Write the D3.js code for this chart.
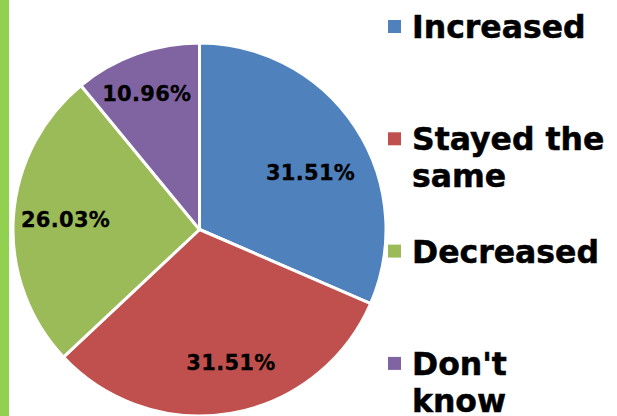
<!DOCTYPE html>
<html>
<head>
<meta charset="utf-8">
<script src="https://cdn.jsdelivr.net/npm/d3@7"></script>
<style>
  html, body { margin: 0; padding: 0; background: #fff; }
  svg { display: block; }
</style>
</head>
<body>
<svg id="chart" width="617" height="416"></svg>
<script>
// Survey answers and their shares (%)
const categories = ["Increased", "Stayed the same", "Decreased", "Don't know"];
const shares = [31.51, 31.51, 26.03, 10.96];
const legendLines = [["Increased"], ["Stayed the", "same"], ["Decreased"], ["Don't", "know"]];
const colors = ["#4F81BD", "#C0504D", "#9BBB59", "#8064A2"];

// Label placement per slice: [angle shift in degrees, radius fraction]
const labelPlacement = [[6, 0.67], [-3.5, 0.73], [0.5, 0.72], [-1.5, 0.78]];

const svg = d3.select("#chart");
const W = 617, H = 416;
const font = "'DejaVu Sans', Verdana, sans-serif";

// Accent bar along the left edge
svg.append("rect").attr("x", 0).attr("y", 0).attr("width", 9).attr("height", H)
  .attr("fill", "#92D050");

const cx = 199.5, cy = 229.5, r = 186.5;
const g = svg.append("g").attr("transform", `translate(${cx},${cy})`);

const pie = d3.pie().sort(null).value(d => d);
const arcs = pie(shares);
const arc = d3.arc().innerRadius(0).outerRadius(r);

g.selectAll("path.slice").data(arcs).enter().append("path")
  .attr("class", "slice")
  .attr("d", arc)
  .attr("fill", (d, i) => colors[i])
  .attr("stroke", "#fff")
  .attr("stroke-width", 3)
  .attr("stroke-linejoin", "round");

g.selectAll("text.val").data(arcs).enter().append("text")
  .attr("class", "val")
  .attr("transform", (d, i) => {
    const a = (d.startAngle + d.endAngle) / 2 + labelPlacement[i][0] * Math.PI / 180;
    const rr = r * labelPlacement[i][1];
    return `translate(${rr * Math.sin(a)},${-rr * Math.cos(a)})`;
  })
  .attr("text-anchor", "middle")
  .attr("dy", "0.36em")
  .attr("font-family", font)
  .attr("font-weight", "bold")
  .attr("font-size", 21)
  .attr("letter-spacing", 0.3)
  .attr("fill", "#000")
  .attr("stroke", "#000")
  .attr("stroke-width", 0.3)
  .text(d => d.data.toFixed(2) + "%");

// Legend
const fs = 31.5, lineH = 37, slot = 112.3, firstBase = 38;
const leg = svg.append("g");
categories.forEach((c, i) => {
  const base = firstBase + i * slot;
  leg.append("rect").attr("x", 388).attr("y", base - 18).attr("width", 13).attr("height", 13)
    .attr("fill", colors[i]);
  const t = leg.append("text")
    .attr("x", 412).attr("y", base)
    .attr("font-family", font).attr("font-weight", "bold").attr("font-size", fs)
    .attr("fill", "#000")
    .attr("stroke", "#000")
    .attr("stroke-width", 0.5);
  legendLines[i].forEach((ln, j) => {
    t.append("tspan").attr("x", 412).attr("y", base + j * lineH).text(ln);
  });
});
</script>
</body>
</html>
